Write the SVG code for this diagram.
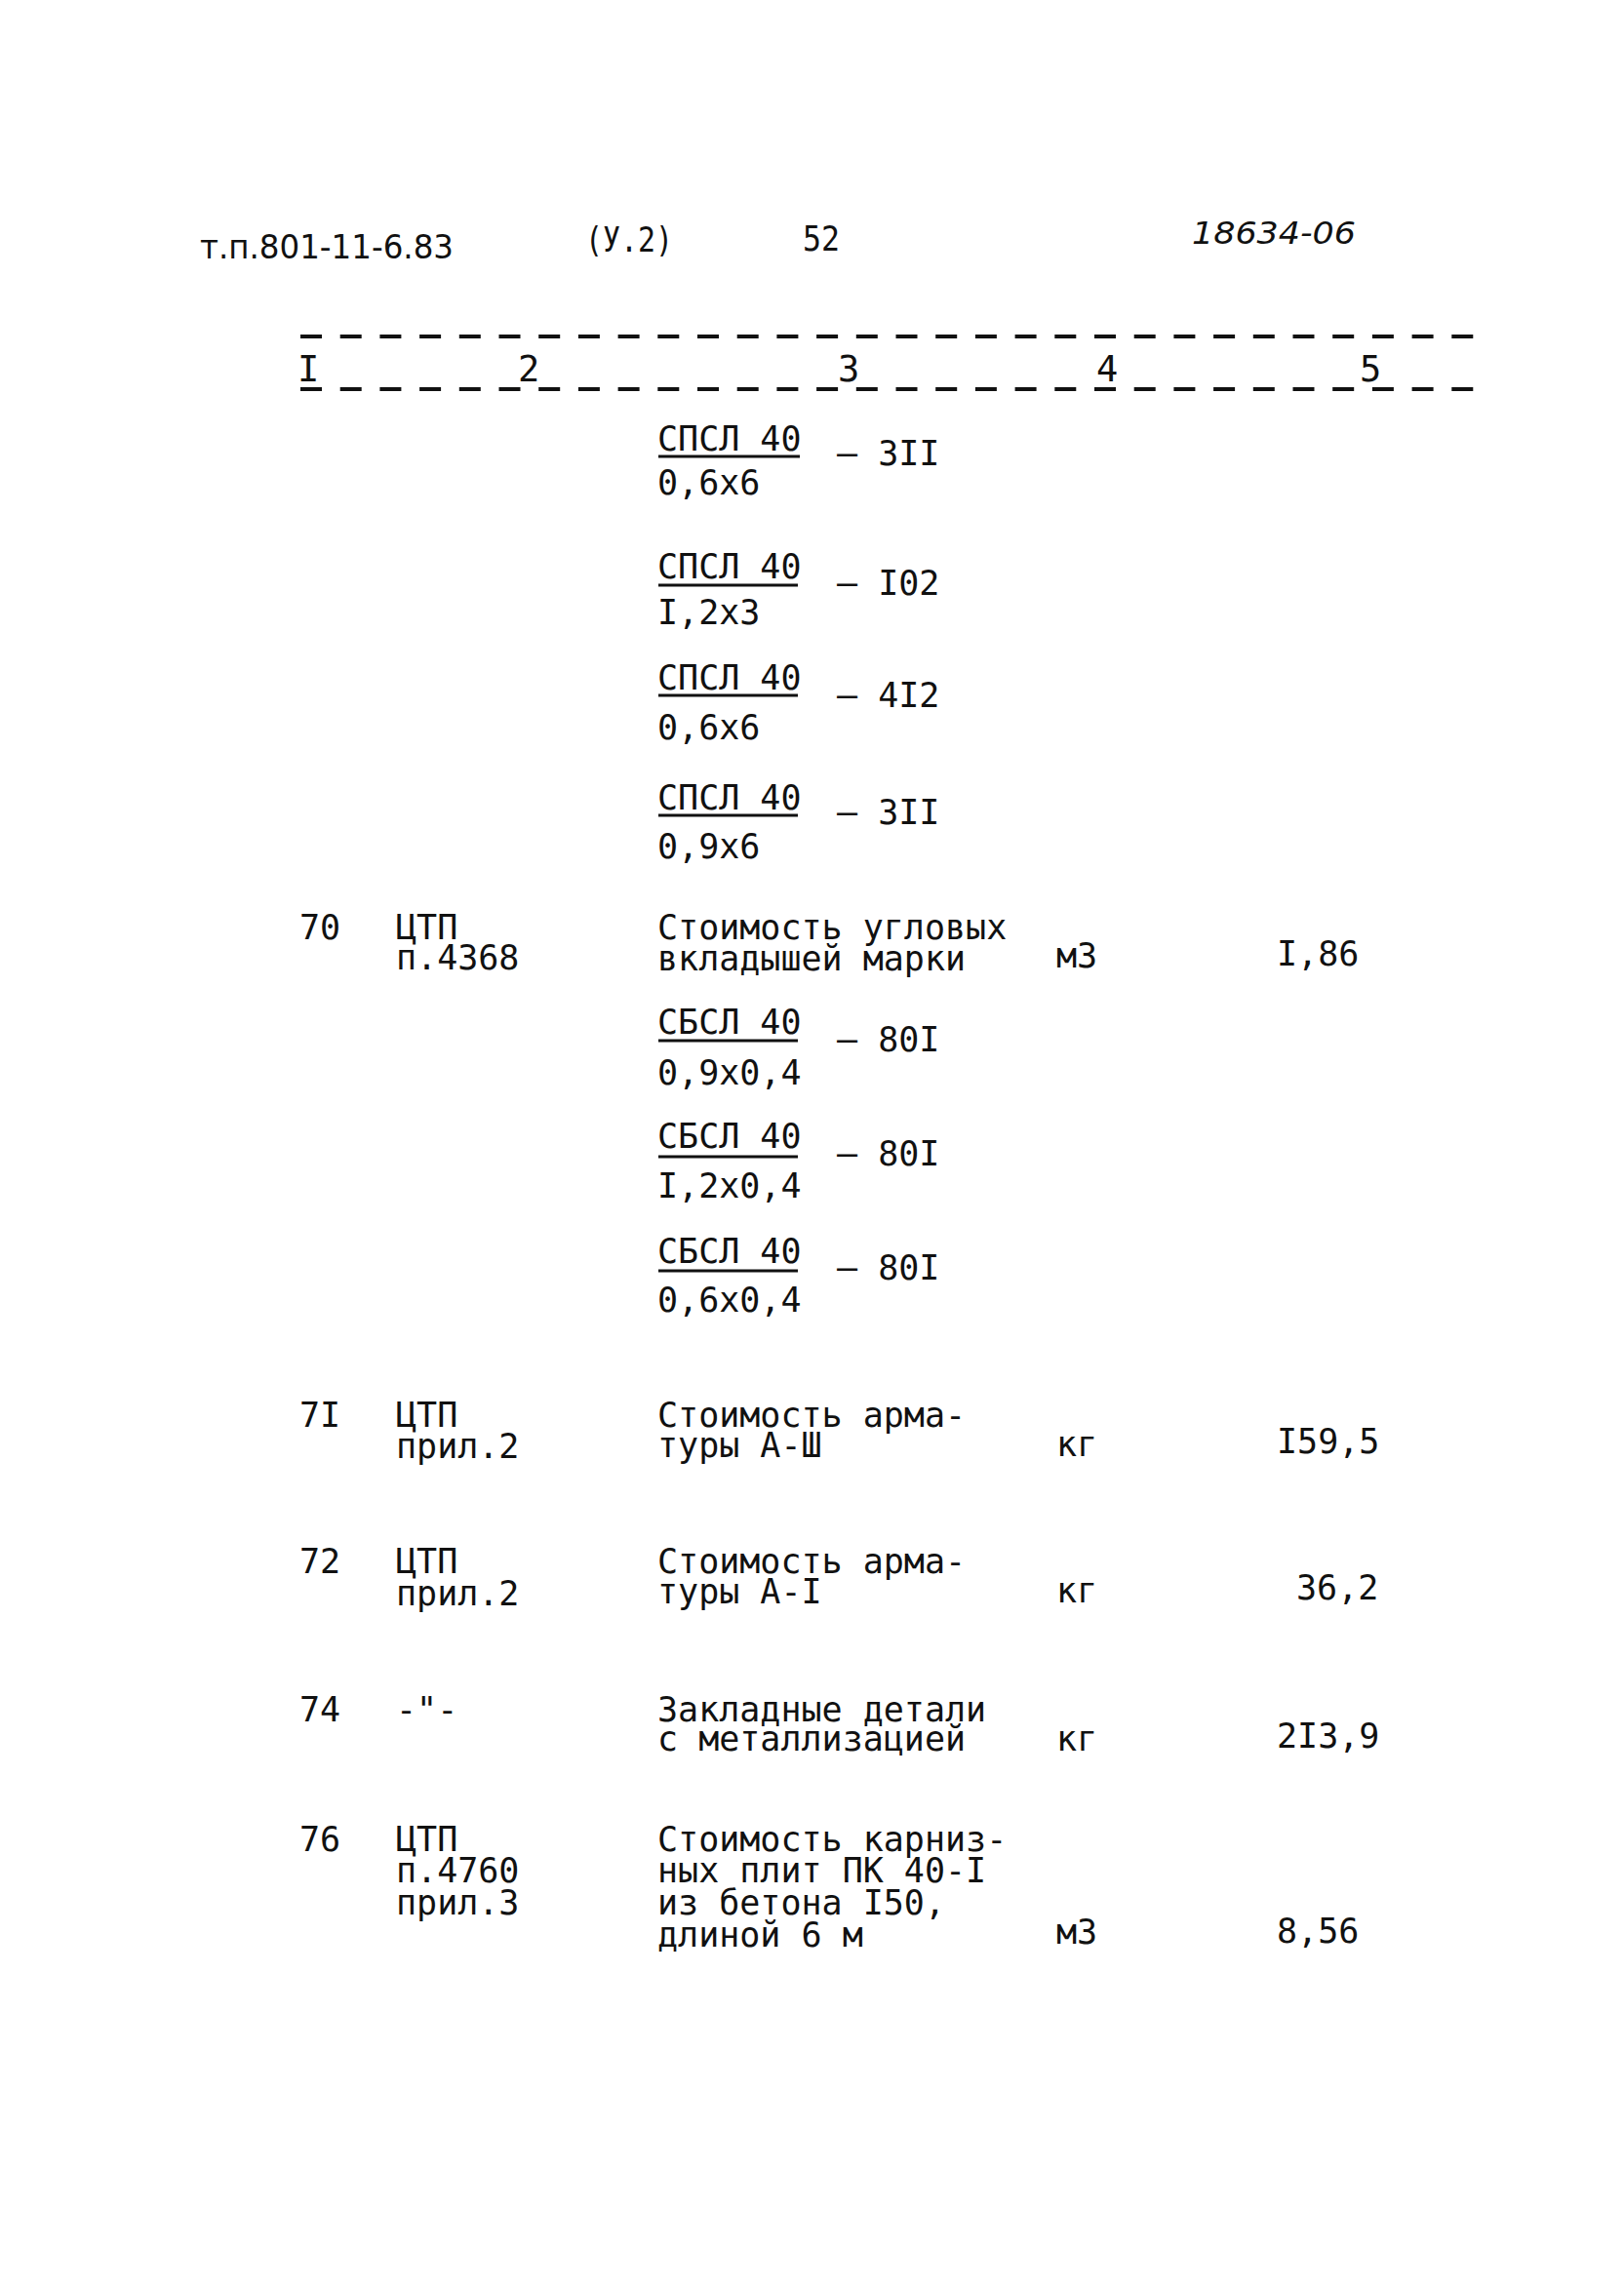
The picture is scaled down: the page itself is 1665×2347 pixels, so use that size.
<svg xmlns="http://www.w3.org/2000/svg" width="1665" height="2347" viewBox="0 0 1665 2347">
<style>
text{font-family:"DejaVu Sans Mono","Liberation Mono",monospace;font-size:35px;fill:#111}
.hw{font-family:"DejaVu Sans","Liberation Sans",sans-serif;font-size:34px}
.it{font-family:"DejaVu Sans","Liberation Sans",sans-serif;font-size:32px;font-style:italic}
.hd{font-size:37px}
.dash{stroke:#111;stroke-width:4;stroke-dasharray:22 18.7;fill:none}
.ul{stroke:#111;stroke-width:3}
</style>
<rect width="1665" height="2347" fill="#fff"/>
<g id="header">
<text class="hw" x="205" y="265" textLength="260" lengthAdjust="spacingAndGlyphs">т.п.801-11-6.83</text>
<text x="600" y="258" textLength="90" lengthAdjust="spacingAndGlyphs">(У.2)</text>
<text x="823" y="257" textLength="38" lengthAdjust="spacingAndGlyphs">52</text>
<text class="it" x="1222" y="250" textLength="168" lengthAdjust="spacingAndGlyphs">18634-06</text>
</g>
<g id="column-heads">
<line class="dash" x1="308" y1="345" x2="1520" y2="345"/>
<line class="dash" x1="308" y1="399" x2="1520" y2="399"/>
<text class="hd" x="305" y="391">I</text>
<text class="hd" x="531" y="391">2</text>
<text class="hd" x="859" y="391">3</text>
<text class="hd" x="1124" y="391">4</text>
<text class="hd" x="1394" y="391">5</text>
</g>
<g id="fractions-spsl">
<text x="674" y="462">СПСЛ 40</text><line class="ul" x1="675" y1="468" x2="820" y2="468"/><text x="674" y="507">0,6х6</text><text x="858" y="477">– 3II</text>
<text x="674" y="593">СПСЛ 40</text><line class="ul" x1="675" y1="600" x2="818" y2="600"/><text x="674" y="640">I,2х3</text><text x="858" y="610">– I02</text>
<text x="674" y="707">СПСЛ 40</text><line class="ul" x1="675" y1="713" x2="818" y2="713"/><text x="674" y="758">0,6х6</text><text x="858" y="725">– 4I2</text>
<text x="674" y="830">СПСЛ 40</text><line class="ul" x1="675" y1="836" x2="818" y2="836"/><text x="674" y="880">0,9х6</text><text x="858" y="845">– 3II</text>
</g>
<g id="row-70">
<text x="307" y="963">70</text>
<text x="406" y="963">ЦТП</text>
<text x="406" y="994">п.4368</text>
<text x="674" y="963">Стоимость угловых</text>
<text x="674" y="995">вкладышей марки</text>
<text x="1083" y="992">м3</text>
<text x="1309" y="990">I,86</text>
</g>
<g id="fractions-sbsl">
<text x="674" y="1060">СБСЛ 40</text><line class="ul" x1="675" y1="1067" x2="818" y2="1067"/><text x="674" y="1112">0,9х0,4</text><text x="858" y="1078">– 80I</text>
<text x="674" y="1177">СБСЛ 40</text><line class="ul" x1="675" y1="1186" x2="818" y2="1186"/><text x="674" y="1228">I,2х0,4</text><text x="858" y="1195">– 80I</text>
<text x="674" y="1295">СБСЛ 40</text><line class="ul" x1="675" y1="1303" x2="818" y2="1303"/><text x="674" y="1345">0,6х0,4</text><text x="858" y="1312">– 80I</text>
</g>
<g id="row-71">
<text x="307" y="1463">7I</text>
<text x="406" y="1463">ЦТП</text>
<text x="406" y="1495">прил.2</text>
<text x="674" y="1463">Стоимость арма-</text>
<text x="674" y="1494">туры А-Ш</text>
<text x="1083" y="1493">кг</text>
<text x="1309" y="1490">I59,5</text>
</g>
<g id="row-72">
<text x="307" y="1613">72</text>
<text x="406" y="1613">ЦТП</text>
<text x="406" y="1646">прил.2</text>
<text x="674" y="1613">Стоимость арма-</text>
<text x="674" y="1644">туры А-I</text>
<text x="1083" y="1643">кг</text>
<text x="1329" y="1640">36,2</text>
</g>
<g id="row-74">
<text x="307" y="1765">74</text>
<text x="406" y="1765">-"-</text>
<text x="674" y="1765">Закладные детали</text>
<text x="674" y="1795">с металлизацией</text>
<text x="1083" y="1795">кг</text>
<text x="1309" y="1792">2I3,9</text>
</g>
<g id="row-76">
<text x="307" y="1898">76</text>
<text x="406" y="1898">ЦТП</text>
<text x="406" y="1930">п.4760</text>
<text x="406" y="1963">прил.3</text>
<text x="674" y="1898">Стоимость карниз-</text>
<text x="674" y="1930">ных плит ПК 40-I</text>
<text x="674" y="1963">из бетона I50,</text>
<text x="674" y="1996">длиной 6 м</text>
<text x="1083" y="1993">м3</text>
<text x="1309" y="1992">8,56</text>
</g>
</svg>
